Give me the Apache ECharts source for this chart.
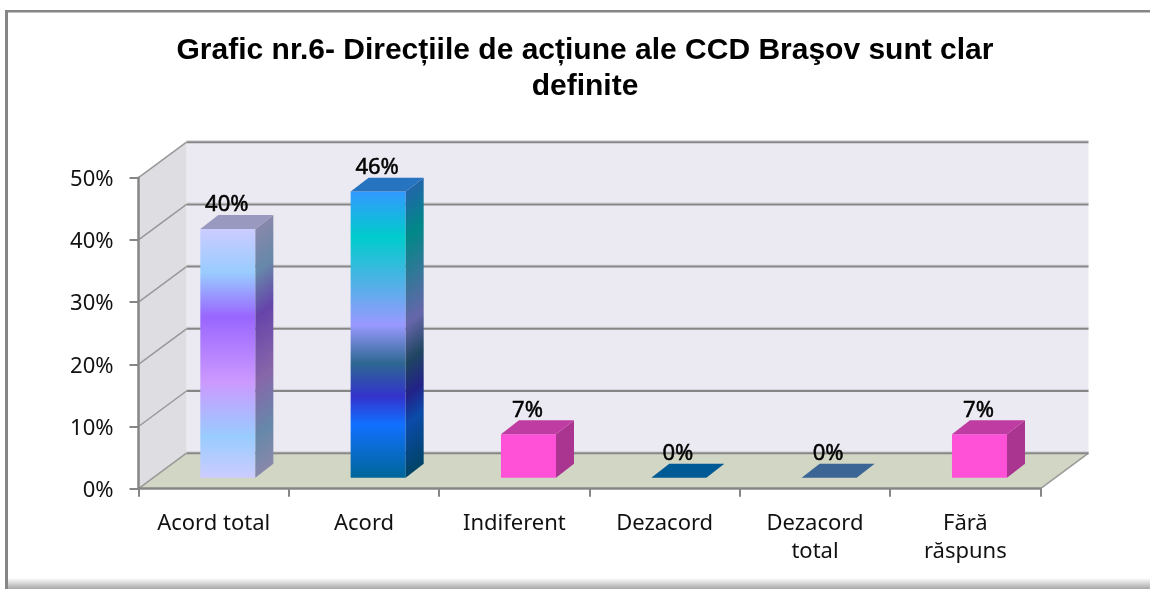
<!DOCTYPE html>
<html>
<head>
<meta charset="utf-8">
<style>html,body{margin:0;padding:0;background:#fff}#c{width:1150px;height:589px}</style>
<script src="https://cdn.jsdelivr.net/npm/echarts@6/dist/echarts.min.js"></script>
</head>
<body>
<div id="c"></div>
<script>
const titleText = 'Grafic nr.6- Direcțiile de acțiune ale CCD Braşov sunt clar\ndefinite';
const categories = ['Acord total', 'Acord', 'Indiferent', 'Dezacord', 'Dezacord\ntotal', 'Fără\nrăspuns'];
const percentValues = [40, 46, 7, 0, 0, 7];
const axisTicks = [0, 10, 20, 30, 40, 50];

const barGradients = [
  [[0, '#CCCCFF'], [0.176, '#99CCFF'], [0.354, '#9966FF'], [0.614, '#CC99FF'], [0.835, '#99CCFF'], [1, '#CCCCFF']],
  [[0, '#3399FF'], [0.16, '#00CCCC'], [0.466, '#9999FF'], [0.60, '#2E6792'], [0.716, '#3333CC'], [0.814, '#1170FF'], [1, '#006699']],
  [[0, '#FF50D8'], [1, '#FF50D8']],
  [[0, '#0078C8'], [1, '#0078C8']],
  [[0, '#4D86C6'], [1, '#4D86C6']],
  [[0, '#FF50D8'], [1, '#FF50D8']]
];

const DX = 48, DY = -35.5;            // depth of the 3D box
const Z0X = 0.295, Z0Y = 0.31, ZB = 0.375, ZBY = 0.39;
const BAR_FRACTION = 0.366;
const AXIS_GREY = '#868686';
const FONT = '"Noto Sans"';

function shade(hex, k) {
  const n = parseInt(hex.slice(1), 16);
  const f = s => Math.round(((n >> s) & 255) * k);
  return 'rgb(' + f(16) + ',' + f(8) + ',' + f(0) + ')';
}
function stops(st, k) {
  return st.map(s => ({ offset: s[0], color: shade(s[1], k) }));
}
function poly(points, fill, extra) {
  return Object.assign({ type: 'polygon', shape: { points }, style: { fill } }, extra || {});
}

function renderWalls(params) {
  const c = params.coordSys;
  const L = c.x, R = c.x + c.width, T = c.y, B = c.y + c.height;
  return {
    type: 'group',
    children: [
      poly([[L + DX, T + DY], [R + DX, T + DY], [R + DX, B + DY], [L + DX, B + DY]], '#EBE9F1'),
      poly([[L, T], [L + DX, T + DY], [L + DX, B + DY], [L, B]], '#DEDDE2'),
      poly([[L, B], [L + DX, B + DY], [R + DX, B + DY], [R, B]], '#D2D6C4'),
      { type: 'line', shape: { x1: R, y1: B, x2: R + DX, y2: B + DY }, style: { stroke: '#9A9A9A', lineWidth: 1.5 } }
    ]
  };
}

function renderGrid(params, api) {
  const c = params.coordSys;
  const y = api.coord([0, api.value(1)])[1];
  const L = c.x, R = c.x + c.width;
  return {
    type: 'group',
    children: [
      { type: 'line', shape: { x1: L + DX, y1: y + DY - 1.5, x2: R + DX, y2: y + DY - 1.5 }, style: { stroke: '#D4D3D8', lineWidth: 1 } },
      { type: 'line', shape: { x1: L + DX, y1: y + DY, x2: R + DX, y2: y + DY }, style: { stroke: AXIS_GREY, lineWidth: 2 } },
      { type: 'line', shape: { x1: L, y1: y, x2: L + DX, y2: y + DY }, style: { stroke: '#989898', lineWidth: 1.5 } }
    ]
  };
}

function renderBar(params, api) {
  const i = api.value(0), v = api.value(1);
  const top = api.coord([i, v]), base = api.coord([i, 0]);
  const band = api.size([1, 0])[0], w = band * BAR_FRACTION;
  const x0 = top[0] + DX * Z0X - w / 2, x1 = x0 + w;
  const yT = top[1] + DY * Z0Y, yB = base[1] + DY * Z0Y;
  const ox = DX * ZB, oy = DY * ZBY, H = yB - yT;
  const st = barGradients[i];
  const kids = [];
  if (H > 0.5) {
    kids.push(poly([[x0, yT], [x1, yT], [x1, yB], [x0, yB]], {
      type: 'linear', x: 0, y: 0, x2: 0, y2: 1, colorStops: stops(st, 1)
    }));
    kids.push(poly([[x1, yT], [x1 + ox, yT + oy], [x1 + ox, yB + oy], [x1, yB]], {
      type: 'linear', global: true,
      x: x1, y: yT, x2: x1 + H * 0.485, y2: yT + H * 0.623,
      colorStops: stops(st, 0.667)
    }));
  }
  kids.push(poly([[x0, yT], [x1, yT], [x1 + ox, yT + oy], [x0 + ox, yT + oy]], shade(st[0][1], 0.75)));
  kids.push({
    type: 'text',
    style: {
      text: v + '%', x: (x0 + x1) / 2 - 1, y: yT + oy - 10,
      align: 'center', verticalAlign: 'middle',
      font: '22px ' + FONT, fill: '#000', stroke: '#000', lineWidth: 0.5
    }
  });
  return { type: 'group', children: kids };
}

const chart = echarts.init(document.getElementById('c'), null, { renderer: 'canvas' });
chart.setOption({
  animation: false,
  backgroundColor: '#fff',
  title: {
    text: titleText, left: 580, top: 28, textAlign: 'center',
    textStyle: { fontFamily: '"Liberation Sans"', fontWeight: 'bold', fontSize: 30, lineHeight: 36, color: '#000' }
  },
  graphic: [
    { type: 'rect', shape: { x: 5, y: 10, width: 1145, height: 2.5 }, style: { fill: AXIS_GREY }, silent: true },
    { type: 'rect', shape: { x: 5, y: 10, width: 3, height: 579 }, style: { fill: AXIS_GREY }, silent: true },
    { type: 'rect', shape: { x: 8, y: 578, width: 1142, height: 11 }, silent: true,
      style: { fill: { type: 'linear', x: 0, y: 0, x2: 0, y2: 1, colorStops: [{ offset: 0, color: '#ffffff' }, { offset: 1, color: '#A8A8A8' }] } } }
  ],
  grid: { left: 138.5, right: 109.5, top: 177.7, bottom: 100.3 },
  xAxis: {
    type: 'category', data: categories, z: 5,
    axisLine: { lineStyle: { color: AXIS_GREY, width: 2.5 } },
    axisTick: { show: true, length: 8, lineStyle: { color: AXIS_GREY, width: 2 } },
    axisLabel: { interval: 0, margin: 21, fontFamily: FONT, fontSize: 22, lineHeight: 28, color: '#111' },
    splitLine: { show: false }
  },
  yAxis: {
    type: 'value', min: 0, max: 50, interval: 10, z: 5,
    axisLine: { show: true, lineStyle: { color: AXIS_GREY, width: 2.5 } },
    axisTick: { show: true, length: 9, lineStyle: { color: AXIS_GREY, width: 2 } },
    axisLabel: { margin: 25, verticalAlign: 'top', lineHeight: 4, formatter: '{value}%', fontFamily: FONT, fontSize: 22, color: '#111' },
    splitLine: { show: false }
  },
  series: [
    { type: 'custom', name: 'walls', z: 1, silent: true, clip: false, renderItem: renderWalls, data: [[0, 0]] },
    { type: 'custom', name: 'grid', z: 2, silent: true, clip: false, renderItem: renderGrid,
      data: axisTicks.map(t => [0, t]) },
    { type: 'custom', name: 'Procent', z: 3, clip: false, renderItem: renderBar,
      data: percentValues.map((v, i) => [i, v]) }
  ]
});
</script>
</body>
</html>
